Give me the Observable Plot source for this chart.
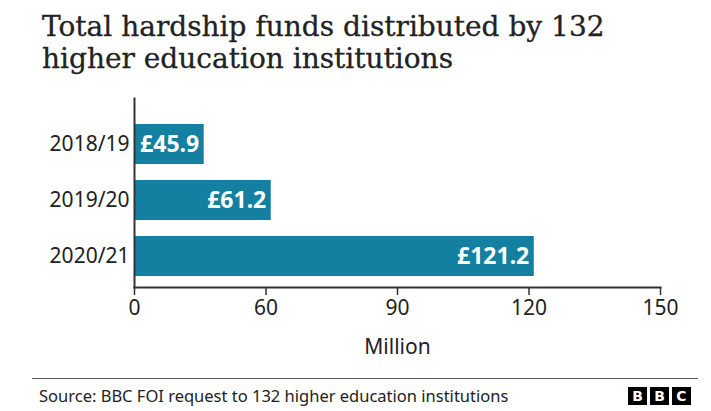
<!DOCTYPE html>
<html>
<head>
<meta charset="utf-8">
<script src="https://cdn.jsdelivr.net/npm/d3@7"></script>
<script src="https://cdn.jsdelivr.net/npm/@observablehq/plot@0.6"></script>
<style>
  html, body { margin: 0; padding: 0; background: #fff; }
  #page { position: relative; width: 711px; height: 411px; overflow: hidden; background: #fff; }
  #title { position: absolute; left: 42px; top: 11px; font-family: "DejaVu Serif", serif; font-size: 28px; line-height: 32px; color: #222; letter-spacing: 0px; -webkit-text-stroke: 0.3px #222; }
  #chart { position: absolute; left: 0; top: 90px; }
  #rule { position: absolute; left: 32px; top: 378px; width: 666px; height: 0; border-top: 1.5px solid #555; }
  #source { position: absolute; left: 39px; top: 386px; font-family: "Noto Sans", sans-serif; font-size: 16.5px; line-height: 20px; color: #222; }
  #logo { position: absolute; left: 628px; top: 387px; display: flex; gap: 3px; }
  #logo span { display: block; width: 19px; height: 18px; background: #000; color: #fff; font-family: "DejaVu Sans", sans-serif; font-weight: bold; font-size: 14px; line-height: 18px; text-align: center; }
</style>
</head>
<body>
<div id="page">
  <div id="title">Total hardship funds distributed by 132<br>higher education institutions</div>
  <div id="chart"></div>
  <div id="rule"></div>
  <div id="source">Source: BBC FOI request to 132 higher education institutions</div>
  <div id="logo"><span>B</span><span>B</span><span>C</span></div>
</div>
<script>
const years = ["2018/19", "2019/20", "2020/21"];
const funds = [45.9, 61.2, 121.2];
const xTicks = [30, 60, 90, 120, 150];
const xTickLabels = ["0", "60", "90", "120", "150"];
const xLabel = "Million";

const data = years.map((y, i) => ({year: y, value: funds[i]}));

const chart = Plot.plot({
  width: 711,
  height: 280,
  marginLeft: 134,
  marginRight: 51,
  marginTop: 8,
  marginBottom: 83,
  style: {fontFamily: "'Noto Sans', sans-serif", fontSize: "21px", color: "#222", background: "transparent"},
  x: {domain: [xTicks[0], xTicks[xTicks.length - 1]], clamp: true},
  y: {domain: years, paddingInner: 0.29, paddingOuter: 0.318, align: 0.69},
  marks: [
    Plot.barX(data, {x: "value", y: "year", fill: "#1380a1"}),
    Plot.text(data, {x: "value", y: "year", text: d => "£" + d.value.toFixed(1), textAnchor: "end", dx: -5, fill: "white", fontWeight: "bold", fontSize: 23}),
    Plot.frame({anchor: "left", stroke: "#333", strokeWidth: 2}),
    Plot.frame({anchor: "bottom", stroke: "#333", strokeWidth: 2}),
    Plot.axisY({tickSize: 0, tickPadding: 5, label: null, fontSize: 21}),
    Plot.axisX({ticks: xTicks, tickFormat: (d, i) => xTickLabels[xTicks.indexOf(d)], tickSize: 8, tickPadding: 5, strokeWidth: 1.5, stroke: "#333", fontSize: 21, label: xLabel, labelAnchor: "center", labelArrow: "none", labelOffset: 66})
  ]
});
document.getElementById("chart").appendChild(chart);
</script>
</body>
</html>
